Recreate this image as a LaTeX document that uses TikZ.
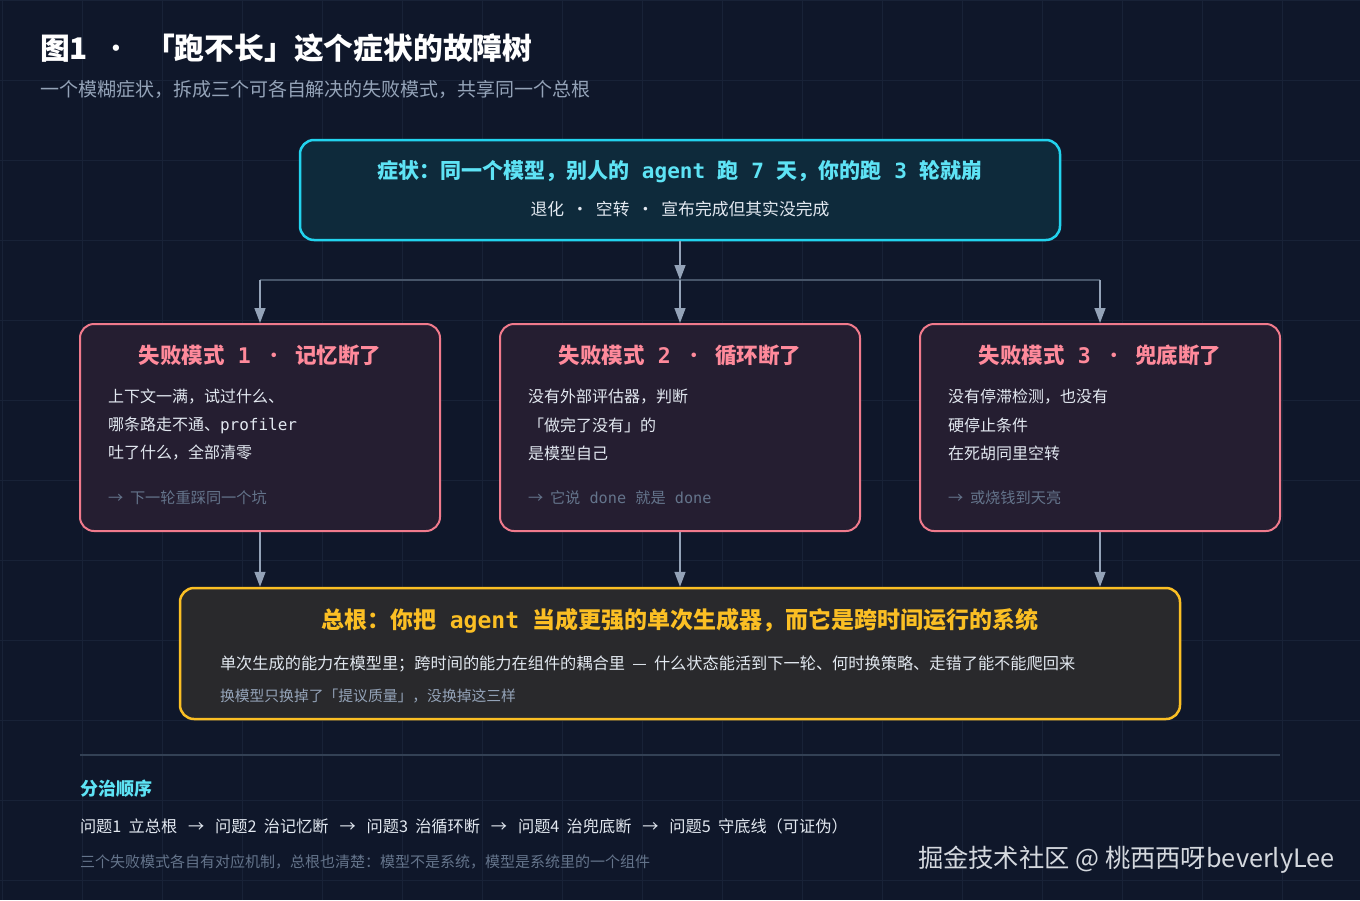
\documentclass[tikz,border=0pt]{standalone}
\usepackage{fontspec}
\setmainfont{Noto Sans CJK SC}
\newfontfamily\mono{DejaVu Sans Mono}
\usetikzlibrary{arrows.meta}
\definecolor{bg}{HTML}{0F172A}
\definecolor{gridc}{HTML}{182237}
\definecolor{cyanB}{HTML}{22D3EE}
\definecolor{cyanT}{HTML}{5EE3F5}
\definecolor{cyanF}{HTML}{0E2A3B}
\definecolor{pinkB}{HTML}{F07A8C}
\definecolor{pinkT}{HTML}{FF8A9B}
\definecolor{pinkF}{HTML}{251E31}
\definecolor{ambB}{HTML}{FBBF24}
\definecolor{ambT}{HTML}{FBBF24}
\definecolor{ambF}{HTML}{29292C}
\definecolor{bodyT}{HTML}{E2E8F0}
\definecolor{subT}{HTML}{94A3B8}
\definecolor{dimT}{HTML}{64748B}
\definecolor{arrC}{HTML}{94A3B8}
\definecolor{barC}{HTML}{475569}
\definecolor{divC}{HTML}{334155}
\definecolor{wmT}{HTML}{D4D8DE}
\newcommand\fsz[1]{\fontsize{#1}{#1}\selectfont}
\tikzset{
  symbox/.style={draw=cyanB, fill=cyanF, line width=2.5pt, rounded corners=14pt, minimum width=760pt, minimum height=100pt, inner sep=0pt},
  failbox/.style={draw=pinkB, fill=pinkF, line width=2pt, rounded corners=14pt, minimum width=360pt, minimum height=207pt, inner sep=0pt},
  rootbox/.style={draw=ambB, fill=ambF, line width=2.5pt, rounded corners=14pt, minimum width=1000pt, minimum height=131pt, inner sep=0pt},
  txt/.style={inner sep=0pt, outer sep=0pt},
  ltxt/.style={txt, anchor=west},
  ftitle/.style={txt, text=pinkT, font=\fsz{21.5}\bfseries},
  fbody/.style={ltxt, text=bodyT, font=\fsz{16}},
  ffoot/.style={ltxt, text=dimT, font=\fsz{15.2}},
  arr/.style={draw=arrC, line width=1.5pt, -{Triangle[length=15pt,width=11pt]}},
  bar/.style={draw=barC, line width=1.5pt},
}
\begin{document}
\begin{tikzpicture}[x=1pt,y=-1pt]
\fill[bg] (0,0) rectangle (1360,900);
\useasboundingbox (0,0) rectangle (1360,900);
\foreach \gx in {2,82,...,1362} \draw[gridc, line width=1pt] (\gx,0) -- (\gx,900);
\foreach \gy in {0,80,...,900} \draw[gridc, line width=1pt] (0,\gy) -- (1360,\gy);

% title
\node[ltxt, text=white, font=\fsz{29.8}\bfseries] (title) at (40,48) {图1 \ {\mdseries ·} \ 「跑不长」这个症状的故障树};
\node[ltxt, text=subT, font=\fsz{19}] (subtitle) at (40,89) {一个模糊症状，拆成三个可各自解决的失败模式，共享同一个总根};

% symptom
\node[symbox] (sym) at (680,190) {};
\node[txt, text=cyanT, font=\fsz{21}\bfseries] (symt) at (680,172) {症状：同一个模型，别人的{\mono\ agent\ }跑{\mono\ 7\ }天，你的跑{\mono\ 3\ }轮就崩};
\node[txt, text=bodyT, font=\fsz{16.8}] (syms) at (680,209) {退化 \ · \ 空转 \ · \ 宣布完成但其实没完成};

% failure boxes
\node[failbox] (f1) at (260,427.5) {};
\node[failbox] (f2) at (680,427.5) {};
\node[failbox] (f3) at (1100,427.5) {};

\node[ftitle] (f1t) at (260,355) {失败模式{\mono\ 1\ }{\mdseries ·} \ 记忆断了};
\node[fbody] (f1a) at (108,397) {上下文一满，试过什么、};
\node[fbody] (f1b) at (108,425) {哪条路走不通、{\mono profiler}};
\node[fbody] (f1c) at (108,453) {吐了什么，全部清零};
\node[ffoot] (f1d) at (108,498) {→ \ 下一轮重踩同一个坑};

\node[ftitle] (f2t) at (680,355) {失败模式{\mono\ 2\ }{\mdseries ·} \ 循环断了};
\node[fbody] (f2a) at (528,397) {没有外部评估器，判断};
\node[fbody] (f2b) at (528,425) {「做完了没有」的};
\node[fbody] (f2c) at (528,453) {是模型自己};
\node[ffoot] (f2d) at (528,498) {→ \ 它说{\mono\ done\ }就是{\mono\ done}};

\node[ftitle] (f3t) at (1100,355) {失败模式{\mono\ 3\ }{\mdseries ·} \ 兜底断了};
\node[fbody] (f3a) at (948,397) {没有停滞检测，也没有};
\node[fbody] (f3b) at (948,425) {硬停止条件};
\node[fbody] (f3c) at (948,453) {在死胡同里空转};
\node[ffoot] (f3d) at (948,498) {→ \ 或烧钱到天亮};

% root
\node[rootbox] (root) at (680,653.5) {};
\node[txt, text=ambT, font=\fsz{23}\bfseries] (roott) at (680,621) {总根：你把{\mono\ agent\ }当成更强的单次生成器，而它是跨时间运行的系统};
\node[ltxt, text=bodyT, font=\fsz{16.2}] (roota) at (220,664) {单次生成的能力在模型里；跨时间的能力在组件的耦合里 \ — \ 什么状态能活到下一轮、何时换策略、走错了能不能爬回来};
\node[ltxt, text=subT, font=\fsz{14.8}] (rootb) at (220,696) {换模型只换掉了「提议质量」，没换掉这三样};

% connectors
\coordinate (jm) at (680,280);
\coordinate (j1) at (260,280);
\coordinate (j3) at (1100,280);
\draw[bar] (j1) -- (j3);
\draw[arr] (sym.south) -- (jm);
\draw[arr] (j1) -- (f1.north);
\draw[arr] (jm) -- (f2.north);
\draw[arr] (j3) -- (f3.north);
\draw[arr] (f1.south) -- (f1.south |- root.north);
\draw[arr] (f2.south) -- (root.north);
\draw[arr] (f3.south) -- (f3.south |- root.north);

% bottom
\draw[divC, line width=1.5pt] (80,755) -- (1280,755);
\node[ltxt, text=cyanT, font=\fsz{18}\bfseries] (seqh) at (80,789) {分治顺序};
\node[ltxt, text=bodyT, font=\fsz{16.2}] (seq) at (80,826) {问题1 \ 立总根 \ \ → \ \ 问题2 \ 治记忆断 \ \ → \ \ 问题3 \ 治循环断 \ \ → \ \ 问题4 \ 治兜底断 \ \ → \ \ 问题5 \ 守底线（可证伪）};
\node[ltxt, text=dimT, font=\fsz{15}] (note) at (80,862) {三个失败模式各自有对应机制，总根也清楚：模型不是系统，模型是系统里的一个组件};
\node[ltxt, text=wmT, font=\fsz{25.3}] (wm) at (918,860) {掘金技术社区 @ 桃西西呀beverlyLee};
\end{tikzpicture}
\end{document}
